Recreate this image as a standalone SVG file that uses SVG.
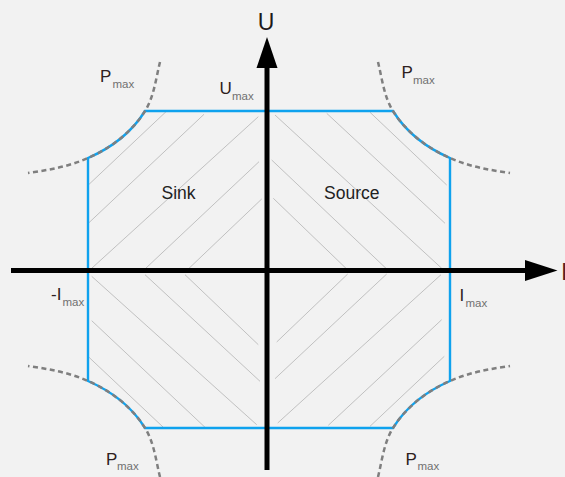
<svg xmlns="http://www.w3.org/2000/svg" xmlns:xlink="http://www.w3.org/1999/xlink" width="565" height="477" viewBox="0 0 565 477">
<style>
.hatch{stroke:#b4b4b4;stroke-width:0.8;fill:none}
.bound{stroke:#0fa2ee;stroke-width:2.4;fill:none}
.pcurve{stroke:#7f7f7f;stroke-width:2.5;fill:none;stroke-dasharray:5 3.5}
.axis{stroke:#000;stroke-width:5;fill:none}
.main{font-family:"Liberation Sans",Arial,sans-serif;font-size:17px;fill:#2e2020}
.sub{font-family:"Liberation Sans",Arial,sans-serif;font-size:11.5px;fill:#707070}
.area{font-family:"Liberation Sans",Arial,sans-serif;font-size:17.5px;fill:#222}
.axlbl{font-family:"Liberation Sans",Arial,sans-serif;font-size:23px}
</style>
<defs>
<path id="pc" d="M378,62 C382,78 384,97 393,111 C406,132 427,148 450,158 C469,166.5 489,170 510,173"/>
</defs>
<rect x="0" y="0" width="565" height="477" fill="#f2f2f2"/>
<g id="hatching">
<path class="hatch" d="M88.3,185 L166,111.7 M88.3,223.3 L204,114.3 M91.7,268.3 L258.3,116.7 M145,269 L259,161.7 M188.3,269 L261.7,199"/>
<path class="hatch" d="M275,115 L441.7,268.3 M326.7,113.3 L445,223.3 M370,112.3 L446.7,185 M271.7,160 L386.7,269 M273.3,198.3 L346.7,269"/>
<path class="hatch" d="M91.7,276.3 L256.7,424.7 M145,274.7 L260,381.3 M185,274.7 L258.3,344.7 M91.7,320.7 L205,427.3 M89,357.3 L163.3,427.3"/>
<path class="hatch" d="M276.7,342 L347.7,274 M275,378.7 L386.7,274 M277.7,423 L441,274.7 M328.3,425.3 L441.7,319.7 M370,426.3 L444.3,356.3"/>
</g>
<g id="boundary">
<path class="bound" d="M145,111 H393 C406,132 427,148 450,158 V381 C427,391 406,407 393,428 H145 C132,407 111,391 88,381 V158 C111,148 132,132 145,111 Z"/>
</g>
<g id="power-curves">
<use xlink:href="#pc" class="pcurve"/>
<use xlink:href="#pc" class="pcurve" transform="matrix(-1 0 0 1 538 0)"/>
<use xlink:href="#pc" class="pcurve" transform="matrix(1 0 0 -1 0 539)"/>
<use xlink:href="#pc" class="pcurve" transform="matrix(-1 0 0 -1 538 539)"/>
</g>
<g id="axes">
<line class="axis" x1="11" y1="270.5" x2="527" y2="270.5"/>
<polygon points="525,260 557.5,270.5 525,281" fill="#000"/>
<line class="axis" x1="267" y1="470" x2="267" y2="66"/>
<polygon points="256.5,68 267,37 277.5,68" fill="#000"/>
<text class="axlbl" x="266" y="29.5" text-anchor="middle" fill="#1e1a1a">U</text>
<text class="axlbl" x="561" y="280" fill="#5a1e1e">I</text>
</g>
<g id="labels">
<text class="main" x="100" y="82">P</text><text class="sub" x="112.5" y="87.5">max</text>
<text class="main" x="219.5" y="93.5">U</text><text class="sub" x="232" y="99.5">max</text>
<text class="main" x="401.5" y="77.5">P</text><text class="sub" x="413" y="83.5">max</text>
<text class="main" x="51" y="299.5">-I</text><text class="sub" x="62.5" y="305.5">max</text>
<text class="main" x="459.5" y="300.5">I</text><text class="sub" x="465.5" y="306.5">max</text>
<text class="main" x="106" y="465">P</text><text class="sub" x="117" y="469.5">max</text>
<text class="main" x="405.5" y="465">P</text><text class="sub" x="417.5" y="469.5">max</text>
</g>
<g id="regions">
<text class="area" x="161.5" y="198.5">Sink</text>
<text class="area" x="324" y="199">Source</text>
</g>
</svg>
